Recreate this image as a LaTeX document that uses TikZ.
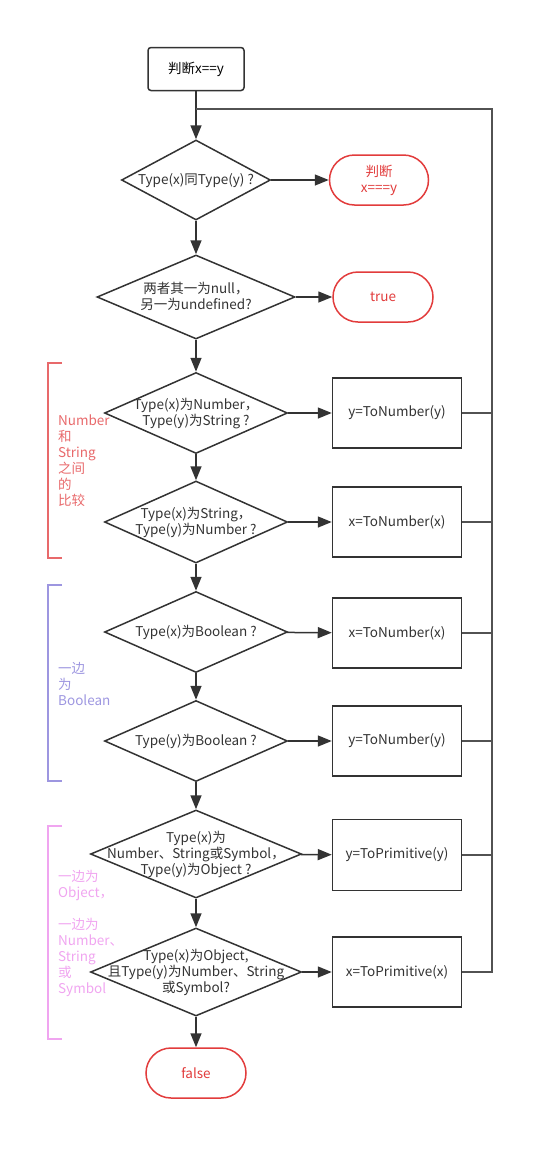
\documentclass[tikz,border=0pt]{standalone}
\usepackage{fontspec}
\setmainfont{Noto Sans CJK SC}
\usepackage{tikz}
\usetikzlibrary{shapes}
\usetikzlibrary{arrows.meta}
\usetikzlibrary{calc}
\usetikzlibrary{positioning}
\usepackage{xcolor}
\definecolor{myblack}{HTML}{333333}
\definecolor{myred}{HTML}{E23C3C}
\definecolor{redside}{HTML}{E8696B}
\definecolor{blueside}{HTML}{9D96E0}
\definecolor{pinkside}{HTML}{F0A5F0}
\newcommand{\dtext}[1]{\makebox[0pt]{\smash{\raisebox{-5pt}{\begin{tabular}{@{}c@{}}#1\end{tabular}}}}}
\tikzset{every text node part/.style={align=center, font={\fontsize{13.5}{16}\selectfont}}}
\tikzstyle{startbox} = [draw=myblack, fill=white, line width=1.5pt, rounded corners=3pt, minimum width=96pt, minimum height=43pt, inner sep=0pt]
\tikzstyle{decision} = [diamond, draw=myblack, fill=white, line width=1.5pt, inner sep=0pt, text=myblack]
\tikzstyle{process} = [draw=myblack, fill=white, line width=1.5pt, minimum width=129pt, minimum height=70pt, inner sep=0pt, text=myblack]
\tikzstyle{terminal} = [draw=myred, fill=white, line width=1.5pt, rounded corners=25pt, minimum width=100pt, minimum height=50pt, inner sep=0pt, text=myred]
\tikzstyle{ln} = [draw=myblack, line width=1.5pt, -{Triangle[length=14pt, width=11pt]}]
\tikzstyle{rl} = [draw=myblack!85, line width=1.5pt]
\tikzstyle{side} = [anchor=west, inner sep=0pt, every text node part/.append style={align=left}]

\begin{document}
\begin{tikzpicture}[x=1pt, y=-1pt]
  \useasboundingbox (0,0) rectangle (554,1160);
  % main column
  \node[startbox] (start) at (196,69) {判断x==y};
  \node[decision, minimum width=149pt, minimum height=80pt] (same) at (196,180) {\dtext{Type(x)同Type(y) ?}};
  \node[terminal, minimum width=99pt] (strict) at (379,180) {判断\\x===y};
  \node[decision, minimum width=198pt, minimum height=84pt] (nulls) at (196,297) {\dtext{两者其一为null，\\另一为undefined?}};
  \node[terminal] (true) at (383,297) {true};
  \node[decision, minimum width=183pt, minimum height=81pt] (numstr) at (196,413) {\dtext{Type(x)为Number，\\Type(y)为String ?}};
  \node[process] (ynum1) at (397,413) {y=ToNumber(y)};
  \node[decision, minimum width=183pt, minimum height=82pt] (strnum) at (196,522) {\dtext{Type(x)为String，\\Type(y)为Number ?}};
  \node[process] (xnum1) at (397,522) {x=ToNumber(x)};
  \node[decision, minimum width=183pt, minimum height=81pt] (xbool) at (196,632) {\dtext{Type(x)为Boolean ?}};
  \node[process] (xnum2) at (397,633) {x=ToNumber(x)};
  \node[decision, minimum width=183pt, minimum height=81pt] (ybool) at (196,741) {\dtext{Type(y)为Boolean ?}};
  \node[process] (ynum2) at (397,741) {y=ToNumber(y)};
  \node[decision, minimum width=211pt, minimum height=88pt] (yobj) at (196,854) {\dtext{Type(x)为\\Number、String或Symbol，\\Type(y)为Object ?}};
  \node[process, minimum height=71pt] (yprim) at (397,855) {y=ToPrimitive(y)};
  \node[decision, minimum width=211pt, minimum height=88pt] (xobj) at (196,972) {\dtext{Type(x)为Object,\\且Type(y)为Number、String\\或Symbol?}};
  \node[process] (xprim) at (397,972) {x=ToPrimitive(x)};
  \node[terminal] (false) at (196,1073) {false};

  % arrows
  \draw[ln] (start) -- (same);
  \draw[ln] (same) -- (strict);
  \draw[ln] (same) -- (nulls);
  \draw[ln] (nulls) -- (true);
  \draw[ln] (nulls) -- (numstr);
  \draw[ln] (numstr) -- (ynum1);
  \draw[ln] (numstr) -- (strnum);
  \draw[ln] (strnum) -- (xnum1);
  \draw[ln] (strnum) -- (xbool);
  \draw[ln] (xbool) -- (xnum2);
  \draw[ln] (xbool) -- (ybool);
  \draw[ln] (ybool) -- (ynum2);
  \draw[ln] (ybool) -- (yobj);
  \draw[ln] (yobj) -- (yprim);
  \draw[ln] (yobj) -- (xobj);
  \draw[ln] (xobj) -- (xprim);
  \draw[ln] (xobj) -- (false);

  % back to the top
  \coordinate (rail) at (492,109);
  \coordinate (merge) at (196,109);
  \draw[rl] (xprim.east) -- (xprim.east -| rail) -- (rail) -- (merge);
  \foreach \b in {ynum1, xnum1, xnum2, ynum2, yprim}
    \draw[rl] (\b.east) -- (\b.east -| rail);

  % groups
  \draw[redside, line width=1.5pt] (62,363) -| (48,558) -- (62,558);
  \node[side, text=redside] (grpnum) at (58,461) {Number\\和\\String\\之间\\的\\比较};
  \draw[blueside, line width=1.5pt] (62,585) -| (48,781) -- (62,781);
  \node[side, text=blueside] (grpbool) at (58,684) {一边\\为\\Boolean};
  \draw[pinkside, line width=1.5pt] (62,826) -| (48,1039) -- (62,1039);
  \node[side, text=pinkside] (grpobj) at (58,933) {一边为\\Object，\\[16pt]一边为\\Number、\\String\\或\\Symbol};
\end{tikzpicture}
\end{document}
